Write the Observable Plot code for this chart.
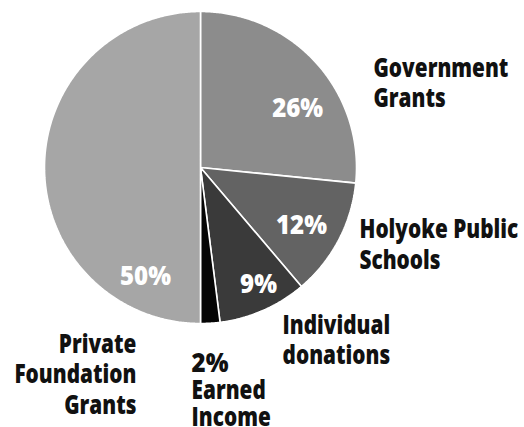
<!DOCTYPE html>
<html>
<head>
<meta charset="utf-8">
<script src="https://cdn.jsdelivr.net/npm/d3@7"></script>
<script src="https://cdn.jsdelivr.net/npm/@observablehq/plot@0.6"></script>
<style>
  html, body { margin: 0; padding: 0; background: #fff; }
  #chart svg { display: block; }
</style>
</head>
<body>
<div id="chart"></div>
<script>
// ---- data ----
const categories = ["Government Grants", "Holyoke Public Schools", "Individual donations", "Earned Income", "Private Foundation Grants"];
const shares = [26.6, 12.2, 9.2, 2.0, 50.0];
const pctLabels = ["26%", "12%", "9%", "2%", "50%"];
const nameLabels = ["Government\nGrants", "Holyoke Public\nSchools", "Individual\ndonations", "Earned\nIncome", "Private\nFoundation\nGrants"];
const sliceColors = ["#8c8c8c", "#636363", "#3a3a3a", "#050505", "#a6a6a6"];

// ---- layout (pie geometry and label placement, in units of the radius) ----
const R = 156;
const FONT = "'Open Sans', 'Noto Sans', Lato, sans-serif";
const FS = 27;
// inside percentage labels: [angle deg clockwise from 12 o'clock, radius fraction]
const innerPlace = [[58.5, 0.73], [119.7, 0.745], [153.5, 0.834], null, [206.9, 0.78]];
// outside name labels: [angle, radius fraction, text-anchor]
const outerPlace = [[62.25, 1.253, "start"], [114.06, 1.116, "start"], [153.7, 1.187, "start"], [182.5, 1.315, "start"], [199.1, 1.255, "end"]];

const rows = categories.map((c, i) => ({name: c, value: shares[i], pct: pctLabels[i], label: nameLabels[i], i}));
const arcs = d3.pie().sort(null).value(d => d.value).startAngle(0).endAngle(2 * Math.PI)(rows);

// wedge outlines from the pie angles
const wedgePts = [];
for (const a of arcs) {
  const n = Math.max(2, Math.ceil((a.endAngle - a.startAngle) / (Math.PI / 360)));
  wedgePts.push({name: a.data.name, x: 0, y: 0});
  for (let k = 0; k <= n; k++) {
    const t = a.startAngle + (a.endAngle - a.startAngle) * k / n;
    wedgePts.push({name: a.data.name, x: R * Math.sin(t), y: R * Math.cos(t)});
  }
  wedgePts.push({name: a.data.name, x: 0, y: 0});
}

const polar = (deg, f) => {
  const t = deg * Math.PI / 180;
  return [R * f * Math.sin(t), R * f * Math.cos(t)];
};

const inner = rows.filter((d, i) => innerPlace[i]).map(d => {
  const [x, y] = polar(innerPlace[d.i][0], innerPlace[d.i][1]);
  return {x, y, text: d.pct};
});

const outer = rows.map(d => {
  const [x, y] = polar(outerPlace[d.i][0], outerPlace[d.i][1]);
  return {x, y, text: d.label, pct: d.pct, anchor: outerPlace[d.i][2], name: d.name};
});

const LH = 1.13, LH2 = 1.0;
const outerMain = outer.filter(d => d.name !== "Earned Income");
const outerEarned = outer.filter(d => d.name === "Earned Income");
const common = {fontFamily: FONT, fontWeight: 800, fontSize: FS};

const chart = Plot.plot({
  width: 524,
  height: 427,
  margin: 0,
  x: {domain: [-200, 324], axis: null},
  y: {domain: [-260, 167], axis: null},
  color: {domain: categories, range: sliceColors},
  marks: [
    Plot.line(wedgePts, {x: "x", y: "y", z: "name", fill: "name", stroke: "white", strokeWidth: 1.6, strokeLinejoin: "miter", curve: "linear"}),
    Plot.text(inner, {x: "x", y: "y", text: "text", fill: "white", className: "pct", ...common}),
    Plot.text(outerMain.filter(d => d.anchor === "start"), {x: "x", y: "y", text: "text", textAnchor: "start", lineAnchor: "top", lineHeight: LH, dy: -0.71 * LH * FS, fill: "#111", className: "name", ...common}),
    Plot.text(outerMain.filter(d => d.anchor === "end"), {x: "x", y: "y", text: "text", textAnchor: "end", lineAnchor: "top", lineHeight: LH, dy: -0.71 * LH * FS, fill: "#111", className: "name", ...common}),
    Plot.text(outerEarned, {x: "x", y: "y", text: "pct", textAnchor: "start", lineAnchor: "top", lineHeight: LH2, dy: -0.71 * LH2 * FS, fill: "#111", className: "pct", ...common}),
    Plot.text(outerEarned, {x: "x", y: "y", text: "text", textAnchor: "start", lineAnchor: "top", lineHeight: LH2, dy: (1 - 0.71) * LH2 * FS, fill: "#111", className: "name", ...common})
  ]
});
document.getElementById("chart").appendChild(chart);

// condense the lettering horizontally (the reference uses a condensed face);
// factors are chosen so that "Government" and "26%" are as wide as in the reference.
function condense(selector, sample, targetW) {
  const texts = Array.from(chart.querySelectorAll(selector + " text"));
  const ref = texts.find(t => t.textContent.startsWith(sample));
  let k = 0.85;
  if (ref) {
    const tsp = ref.querySelector("tspan");
    const w = tsp ? tsp.getComputedTextLength() : ref.getComputedTextLength();
    if (w > 0) k = targetW / w;
  }
  for (const t of texts) {
    const tr = t.getAttribute("transform");
    if (tr) {
      t.setAttribute("transform", tr + ` scale(${k},1)`);
    } else {
      const x = +t.getAttribute("x") || 0;
      t.setAttribute("transform", `translate(${x},0) scale(${k},1) translate(${-x},0)`);
    }
  }
}
condense(".name", "Government", 135);
condense(".pct", "26%", 51);
</script>
</body>
</html>
